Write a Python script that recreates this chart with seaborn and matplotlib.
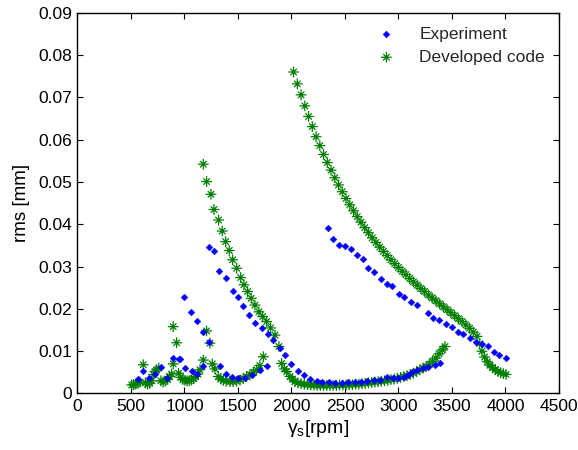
import numpy as np
import pandas as pd
import matplotlib
matplotlib.use("Agg")
import matplotlib.pyplot as plt
from matplotlib.path import Path
from matplotlib.ticker import FuncFormatter
import seaborn as sns

# ---- Experiment (blue) ----
exp_low_rpm = [562, 615, 671, 725, 778, 834, 895, 951, 958, 1005, 1067, 1114, 1170]
exp_low_rms = [0.0034, 0.0052, 0.0037, 0.0045, 0.0063, 0.0036, 0.0085, 0.0081, 0.0081,
               0.0060, 0.0052, 0.0046, 0.0065]
exp_b1_rpm = [1000, 1061, 1114, 1170, 1232]
exp_b1_rms = [0.0228, 0.0193, 0.0172, 0.0146, 0.0121]
exp_mid_rpm = [1332, 1385, 1441, 1503, 1565, 1628, 1706, 1774]
exp_mid_rms = [0.0065, 0.0046, 0.0040, 0.0036, 0.0037, 0.0044, 0.0056, 0.0065]
exp_b2_rpm = [1232, 1279, 1325, 1388, 1456, 1503, 1544, 1606, 1659, 1721, 1783, 1830,
              1893, 1939, 1995, 2058, 2117, 2173, 2235]
exp_b2_rms = [0.0346, 0.0337, 0.0290, 0.0274, 0.0242, 0.0229, 0.0207, 0.0186, 0.0167,
              0.0154, 0.0141, 0.0126, 0.0107, 0.0091, 0.0069, 0.0054, 0.0044, 0.0034, 0.0030]
exp_flat_rpm = [2290, 2350, 2410, 2470, 2530, 2590, 2650, 2710, 2770, 2830, 2890, 2950,
                3000, 3050, 3091, 3130, 3170, 3230, 3279, 3341, 3388]
exp_flat_rms = [0.0027, 0.0026, 0.0025, 0.0025, 0.0026, 0.0027, 0.0028, 0.0029, 0.0031,
                0.0033, 0.0040, 0.0036, 0.0036, 0.0040, 0.0044, 0.0050, 0.0056, 0.0060,
                0.0063, 0.0067, 0.0073]
exp_b3_rpm = [2338, 2385, 2444, 2500, 2553, 2609, 2671, 2718, 2774, 2833, 2890, 2936,
              3007, 3054, 3114, 3170, 3279, 3325, 3381, 3444, 3500, 3559, 3606, 3668,
              3724, 3778, 3834, 3893, 3942, 4005]
exp_b3_rms = [0.0391, 0.0365, 0.0351, 0.0349, 0.0342, 0.0327, 0.0318, 0.0297, 0.0287,
              0.0271, 0.0259, 0.0255, 0.0235, 0.0227, 0.0216, 0.0208, 0.0190, 0.0179,
              0.0173, 0.0164, 0.0157, 0.0146, 0.0140, 0.0132, 0.0122, 0.0117, 0.0113,
              0.0099, 0.0091, 0.0085]

# ---- Developed code (green) ----
dev_low_rpm = [507, 525, 545, 565, 585, 615, 635, 655, 675, 695, 710, 725, 740, 760, 780,
               800, 820, 840, 860, 880, 895, 895, 927, 945, 965, 985, 1005, 1025, 1045,
               1065, 1085, 1105, 1125, 1145, 1176, 1207, 1238, 1260, 1285, 1316, 1340,
               1363, 1390, 1425, 1455, 1488, 1520, 1550, 1580, 1612, 1645, 1675, 1705, 1737]
dev_low_rms = [0.0020, 0.0021, 0.0022, 0.0024, 0.0027, 0.0068, 0.0025, 0.0022, 0.0024,
               0.0030, 0.0045, 0.0052, 0.0056, 0.0060, 0.0030, 0.0027, 0.0029, 0.0033,
               0.0040, 0.0046, 0.0070, 0.0158, 0.0120, 0.0048, 0.0038, 0.0033, 0.0031,
               0.0030, 0.0030, 0.0032, 0.0035, 0.0040, 0.0046, 0.0056, 0.0079, 0.0148,
               0.0119, 0.0070, 0.0058, 0.0040, 0.0034, 0.0031, 0.0029, 0.0028, 0.0028,
               0.0029, 0.0032, 0.0036, 0.0040, 0.0044, 0.0050, 0.0056, 0.0066, 0.0087]
dev_b2_rpm = [1176, 1207, 1248, 1276, 1319, 1353, 1385, 1419, 1450, 1488, 1525, 1556,
              1590, 1624, 1659, 1696, 1731, 1768, 1805, 1846, 1883, 1908, 1935, 1955,
              1986, 2010, 2033]
dev_b2_rms = [0.0542, 0.0501, 0.0471, 0.0435, 0.0410, 0.0384, 0.0359, 0.0338, 0.0316,
              0.0296, 0.0274, 0.0257, 0.0241, 0.0225, 0.0209, 0.0193, 0.0182, 0.0170,
              0.0155, 0.0138, 0.0111, 0.0071, 0.0058, 0.0052, 0.0040, 0.0034, 0.0028]
dev_flat_rpm = [2060, 2090, 2120, 2150, 2180, 2210, 2240, 2270, 2300, 2330, 2360, 2390,
                2420, 2450, 2480, 2510, 2540, 2570, 2600, 2630, 2660, 2690, 2720, 2750,
                2780, 2810, 2840, 2870, 2900, 2930, 2960, 2990, 3020, 3050, 3080, 3110,
                3140, 3170, 3200, 3230, 3260, 3290, 3320, 3350, 3380, 3410, 3435]
dev_flat_rms = [0.0025, 0.0023, 0.0022, 0.0021, 0.0020, 0.0020, 0.0019, 0.0019, 0.0019,
                0.0019, 0.0019, 0.0019, 0.0019, 0.0020, 0.0020, 0.0020, 0.0021, 0.0021,
                0.0022, 0.0022, 0.0023, 0.0024, 0.0025, 0.0026, 0.0027, 0.0028, 0.0029,
                0.0030, 0.0031, 0.0033, 0.0034, 0.0036, 0.0038, 0.0040, 0.0042, 0.0045,
                0.0048, 0.0052, 0.0056, 0.0060, 0.0064, 0.0069, 0.0076, 0.0084, 0.0094,
                0.0103, 0.0111]
dev_b3_rpm = [2020, 2055, 2090, 2125, 2160, 2195, 2230, 2265, 2300, 2335, 2370, 2405,
              2440, 2475, 2510, 2545, 2580, 2615, 2650, 2685, 2720, 2755, 2790, 2825,
              2860, 2895, 2930, 2965, 3000, 3035, 3070, 3105, 3140, 3175, 3210, 3245,
              3280, 3315, 3350, 3385, 3420, 3455, 3490, 3525, 3560, 3595, 3630, 3665,
              3700, 3735, 3760, 3780, 3805, 3830, 3855, 3880, 3905, 3930, 3955, 3980, 4005]
dev_b3_rms = [0.0760, 0.0732, 0.0706, 0.0680, 0.0655, 0.0631, 0.0607, 0.0586, 0.0565,
              0.0546, 0.0528, 0.0510, 0.0493, 0.0477, 0.0461, 0.0446, 0.0432, 0.0418,
              0.0405, 0.0392, 0.0380, 0.0368, 0.0357, 0.0346, 0.0336, 0.0326, 0.0316,
              0.0307, 0.0298, 0.0289, 0.0281, 0.0272, 0.0264, 0.0256, 0.0248, 0.0241,
              0.0233, 0.0226, 0.0219, 0.0212, 0.0205, 0.0198, 0.0191, 0.0184, 0.0177,
              0.0170, 0.0162, 0.0154, 0.0145, 0.0135, 0.0118, 0.0100, 0.0086, 0.0075,
              0.0067, 0.0061, 0.0056, 0.0052, 0.0049, 0.0047, 0.0045]

exp_df = pd.DataFrame({
    "rpm": exp_low_rpm + exp_b1_rpm + exp_mid_rpm + exp_b2_rpm + exp_flat_rpm + exp_b3_rpm,
    "rms": exp_low_rms + exp_b1_rms + exp_mid_rms + exp_b2_rms + exp_flat_rms + exp_b3_rms,
})
dev_df = pd.DataFrame({
    "rpm": dev_low_rpm + dev_b2_rpm + dev_flat_rpm + dev_b3_rpm,
    "rms": dev_low_rms + dev_b2_rms + dev_flat_rms + dev_b3_rms,
})

sns.set_theme(style="white")
plt.rcParams["font.family"] = ["Liberation Sans", "DejaVu Sans"]
plt.rcParams["mathtext.fontset"] = "custom"
plt.rcParams["mathtext.rm"] = "Liberation Sans"
plt.rcParams["mathtext.it"] = "Liberation Sans"

# MATLAB-like asterisk: long + and shorter x
d = 0.6
asterisk = Path(
    [(0, -1), (0, 1), (-1, 0), (1, 0), (-d, -d), (d, d), (-d, d), (d, -d)],
    [Path.MOVETO, Path.LINETO] * 4,
)

fig = plt.figure(figsize=(5.78, 4.5), dpi=100)
ax = fig.add_axes([0.134, 0.1256, 0.833, 0.846])

sns.scatterplot(data=exp_df, x="rpm", y="rms", ax=ax, marker="D", s=12,
                color="#0000ff", edgecolor="#0000ff", linewidth=0.3,
                label="Experiment", zorder=3)
sns.scatterplot(data=dev_df, x="rpm", y="rms", ax=ax, marker=asterisk, s=60,
                facecolor="none", edgecolor="#007f00", linewidth=0.9,
                label="Developed code", zorder=2)

ax.set_xlim(0, 4500)
ax.set_ylim(0, 0.09)
ax.set_xticks(np.arange(0, 4501, 500))
ax.set_yticks(np.arange(0, 0.0901, 0.01))
ax.yaxis.set_major_formatter(FuncFormatter(lambda v, p: "0" if abs(v) < 1e-9 else f"{v:.2f}"))
ax.tick_params(direction="in", length=4, width=0.8, top=True, right=True,
               bottom=True, left=True, labelsize=12.5, colors="black", pad=4)
for sp in ax.spines.values():
    sp.set_color("black")
    sp.set_linewidth(1.0)

ax.set_xlabel(r"$\gamma_{\mathrm{s}}$[rpm]", fontsize=14, color="black", labelpad=3)
ax.set_ylabel("rms [mm]", fontsize=13.5, color="black", labelpad=6)

ax.legend(loc="upper right", frameon=False, fontsize=12.5, handletextpad=0.9,
          borderaxespad=0.4, labelspacing=0.45, markerscale=1.0)

fig.savefig("out.png", dpi=100)
